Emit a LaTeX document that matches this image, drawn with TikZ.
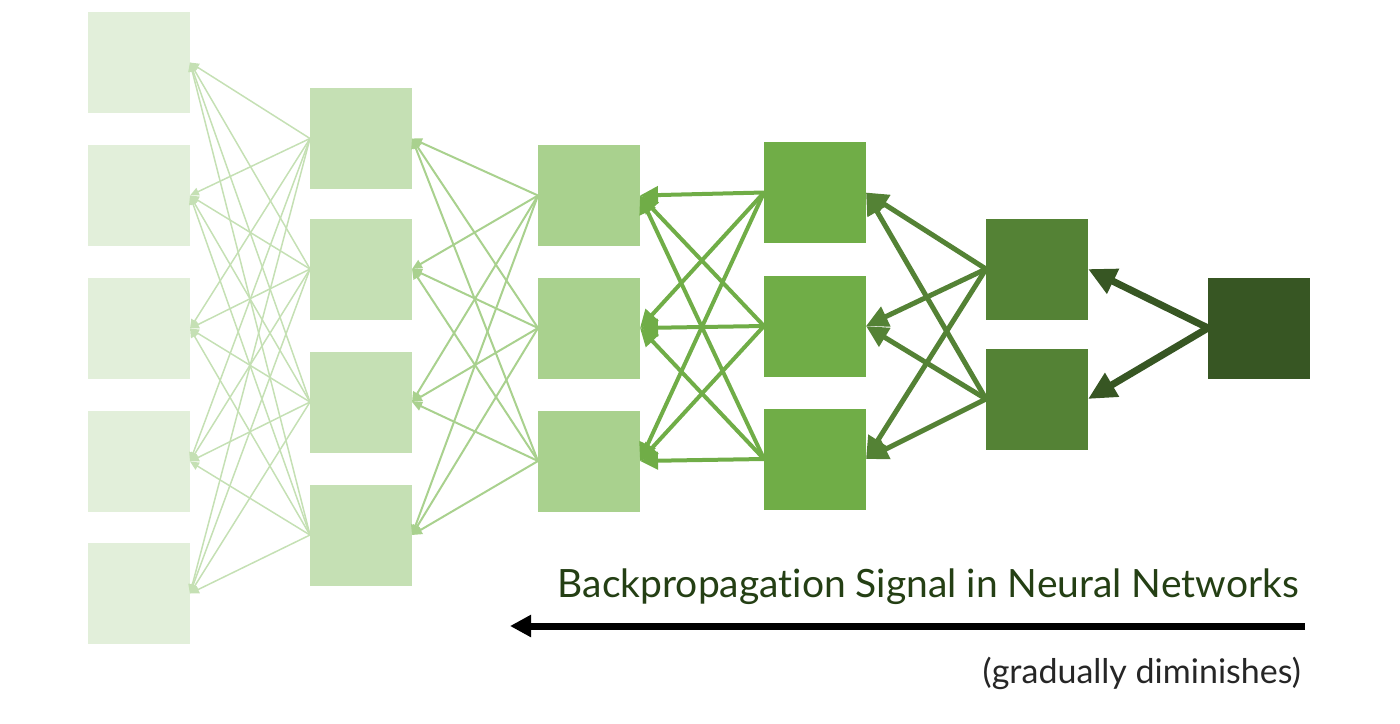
\documentclass[tikz,border=0pt]{standalone}
\usepackage{fontspec}
\setmainfont{Lato}[Ligatures=NoCommon]
\usetikzlibrary{arrows.meta}
\definecolor{gA}{HTML}{E2EFDA}
\definecolor{gB}{HTML}{C5E0B4}
\definecolor{gC}{HTML}{A9D18E}
\definecolor{gD}{HTML}{70AD47}
\definecolor{gE}{HTML}{548235}
\definecolor{gF}{HTML}{375623}
\definecolor{tdark}{HTML}{243F14}
\begin{document}
\begin{tikzpicture}[x=1pt,y=-1pt,
  box/.style={minimum width=102pt,minimum height=101pt,inner sep=0pt,outer sep=0pt,draw=none},
  eA/.style={draw=gB,line width=1.5pt,-{Triangle[length=9pt,width=8pt]}},
  eB/.style={draw=gC,line width=2pt,-{Triangle[length=10pt,width=9pt]}},
  eC/.style={draw=gD,line width=4pt,-{Triangle[length=18pt,width=17pt]}},
  eD/.style={draw=gE,line width=5pt,-{Triangle[length=22pt,width=21pt]}},
  eE/.style={draw=gF,line width=7pt,-{Triangle[length=28pt,width=26pt]}},
  bigarrow/.style={draw=black,line width=7pt,-{Triangle[length=21pt,width=21pt]}}]
\useasboundingbox (0,0) rectangle (1400,723);
% layers
\foreach \y [count=\i] in {62.5,195.5,328.5,461.5,593.5}
  \node[box,fill=gA] (a\i) at (139,\y) {};
\foreach \y [count=\i] in {138.5,269,402,535}
  \node[box,fill=gB] (b\i) at (361,\y) {};
\foreach \y [count=\i] in {195.5,328,461}
  \node[box,fill=gC] (c\i) at (589,\y) {};
\foreach \y [count=\i] in {192.5,326,459}
  \node[box,fill=gD] (d\i) at (815,\y) {};
\foreach \y [count=\i] in {269,399}
  \node[box,fill=gE] (e\i) at (1037,\y) {};
\node[box,fill=gF] (f1) at (1259,328) {};
% connectors
\foreach \i in {1,...,4}
  \foreach \j in {1,...,5}
    \draw[eA] (b\i.west) -- (a\j.east);
\foreach \i in {1,...,3}
  \foreach \j in {1,...,4}
    \draw[eB] (c\i.west) -- (b\j.east);
\foreach \i in {1,...,3}
  \foreach \j in {1,...,3}
    \draw[eC] (d\i.west) -- (c\j.east);
\foreach \i in {1,...,2}
  \foreach \j in {1,...,3}
    \draw[eD] (e\i.west) -- (d\j.east);
\foreach \j in {1,...,2}
  \draw[eE] (f1.west) -- (e\j.east);
% caption
\node[anchor=base east,inner sep=0pt,text=tdark,font=\fontsize{39}{46}\selectfont] (title) at (1299,597) {Backpropagation Signal in Neural Networks};
\coordinate (arR) at (1305,626);
\coordinate (arL) at (510,626);
\draw[bigarrow] (arR) -- (arL);
\node[anchor=base east,inner sep=0pt,text=black!85,font=\fontsize{34}{40}\selectfont] (sub) at (1301,683) {(gradually diminishes)};
\end{tikzpicture}
\end{document}
